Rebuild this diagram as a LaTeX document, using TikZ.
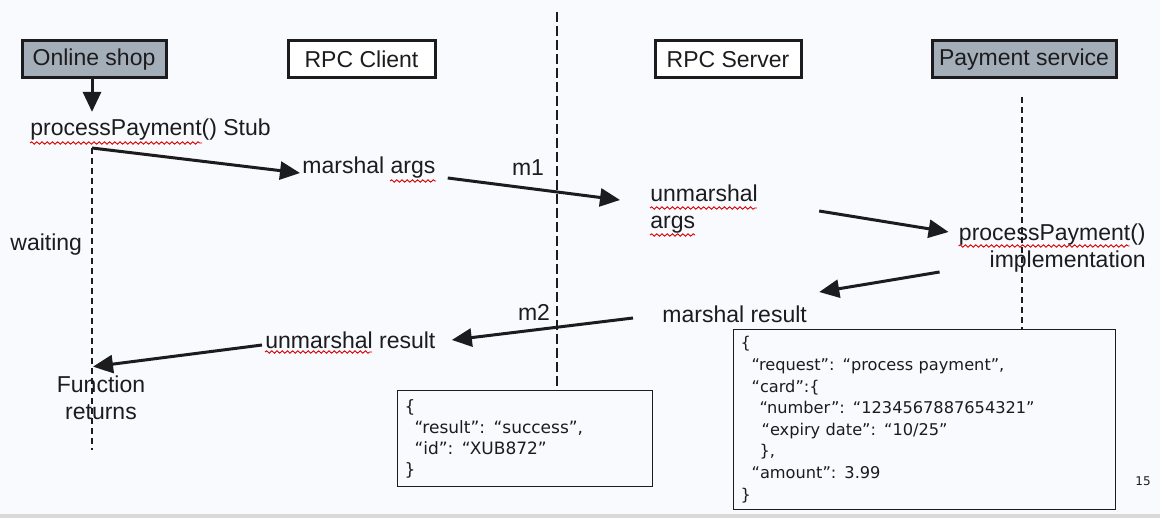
\documentclass[tikz,border=0pt]{standalone}
\usepackage{fontspec}
\setmainfont{Liberation Sans}
\newfontfamily\jsonfont{DejaVu Sans}
\usetikzlibrary{arrows.meta,decorations.pathmorphing}
\definecolor{slidebg}{RGB}{248,250,254}
\definecolor{actorgray}{RGB}{164,174,185}
\definecolor{ink}{RGB}{28,28,30}
\tikzset{
	actor/.style={draw=ink,line width=1.5pt,minimum height=18.5pt,inner sep=0.5pt,text=ink,font=\fontsize{11.5}{13.5}\selectfont},
	txt/.style={inner sep=0pt,text=ink,font=\fontsize{11.5}{13.5}\selectfont},
	msg/.style={draw=ink,line width=1.5pt,-{Triangle[length=10pt,width=9pt]}},
	lifeline/.style={draw=ink,line width=0.6pt,dash pattern=on 3pt off 2pt},
	spell/.style={draw=red!85!black,line width=0.45pt,decorate,decoration={snake,amplitude=0.6pt,segment length=2.6pt}},
	json/.style={draw=ink,line width=0.6pt,fill=slidebg,anchor=north west,align=left,inner sep=3.5pt,text=ink,
		font=\jsonfont\fontsize{8.1}{10.8}\selectfont}
}
\begin{document}
\begin{tikzpicture}[x=0.5pt,y=-0.5pt]
	\fill[slidebg] (0,0) rectangle (1160,518);
	\fill[gray!30] (0,514) rectangle (1160,518);
	\useasboundingbox (0,0) rectangle (1160,518);

	% participants
	\node[actor,fill=actorgray,minimum width=72pt] 	(shop) 		at (94,59.5) 	{Online shop};
	\node[actor,fill=white,minimum width=73.5pt] 	(client) 	at (361.5,59.5) {RPC Client};
	\node[actor,fill=white,minimum width=73pt] 		(server) 	at (728,59.5) 	{RPC Server};
	\node[actor,fill=actorgray,minimum width=92pt] 	(payment) 	at (1024,59.5) 	{Payment service};

	% messages as json
	\node[json,text width=120.5pt,minimum height=48pt,font=\jsonfont\fontsize{8.5}{10.5}\selectfont] (result) at (397,390)
		{\{\\
		\hspace*{5pt}\mbox{“result”: “success”,}\\
		\hspace*{5pt}\mbox{“id”: “XUB872”}\\
		\}};
	\node[json,text width=184pt,minimum height=89.5pt] (request) at (733,329)
		{\{\\
		\hspace*{5.5pt}\mbox{“request”: “process payment”,}\\
		\hspace*{5.5pt}“card”:\{\\
		\hspace*{9.5pt}\mbox{“number”: “1234567887654321”}\\
		\hspace*{10.5pt}\mbox{“expiry date”: “10/25”}\\
		\hspace*{9.5pt}\},\\
		\hspace*{5.5pt}\mbox{“amount”: 3.99}\\
		\}};

	% lifelines
	\coordinate (shoptop) at (92,148);
	\coordinate (shopend) at (92,450);
	\coordinate (nettop) 	at (557,12);
	\coordinate (paytop) 	at (1022,97);
	\draw[lifeline] (shoptop) -- (shopend);
	\draw[lifeline,line width=0.9pt,dash pattern=on 5pt off 2pt] (nettop) -- (nettop |- result.north);
	\draw[lifeline] (paytop) -- (paytop |- request.north);

	% steps
	\node[txt,anchor=west] 				(stub) 		at (30,130) 	{processPayment() Stub};
	\node[txt,anchor=west] 				(margs) 	at (302,168) 	{marshal args};
	\node[txt] 							(m1) 		at (528,168) 	{m1};
	\node[txt,anchor=west,align=left] 	(unargs) 	at (650,209) 	{unmarshal\\args};
	\node[txt,anchor=east,align=right] 	(impl) 		at (1146,248) 	{processPayment()\\implementation};
	\node[txt,anchor=west] 				(mres) 		at (662,314) 	{marshal result};
	\node[txt] 							(m2) 		at (534,312) 	{m2};
	\node[txt,anchor=west] 				(unres) 	at (265,340) 	{unmarshal result};
	\node[txt,align=center] 			(fret) 		at (101,398) 	{Function\\returns};
	\node[txt,anchor=west] 				(waiting) 	at (10,245) 	{waiting};

	\draw[msg] (shop.south -| shoptop) -- ([shift={(0,-7)}]stub.north -| shoptop);
	\draw[msg] (shoptop) -- ([shift={(-2,5)}]margs.west);
	\draw[msg] ([shift={(12,10)}]margs.east) -- ([shift={(-30,-9)}]unargs.west);
	\draw[msg] ([shift={(61,2)}]unargs.east) -- ([shift={(-10,-16)}]impl.west);
	\draw[msg] ([shift={(-19,24)}]impl.west) -- ([shift={(12,-22)}]mres.east);
	\draw[msg] ([shift={(-29,4)}]mres.west) -- ([shift={(16,0)}]unres.east);
	\draw[msg] ([shift={(-3,5)}]unres.west) -- ([shift={(-8,-9)}]fret.north);

	% spell checker marks
	\draw[spell] ([shift={(0,13)}]stub.west) -- ++(172,0);
	\draw[spell] ([shift={(88,13)}]margs.west) -- ++(46,0);
	\draw[spell] ([shift={(0,-1)}]unargs.west) -- ++(107,0);
	\draw[spell] ([shift={(0,26)}]unargs.west) -- ++(45,0);
	\draw[spell] ([shift={(0,-2)}]impl.west) -- ++(171,0);
	\draw[spell] ([shift={(0,12)}]unres.west) -- ++(107,0);

	\node[text=ink,font=\jsonfont\fontsize{6}{7}\selectfont] (page) at (1143,481) {15};
\end{tikzpicture}
\end{document}
